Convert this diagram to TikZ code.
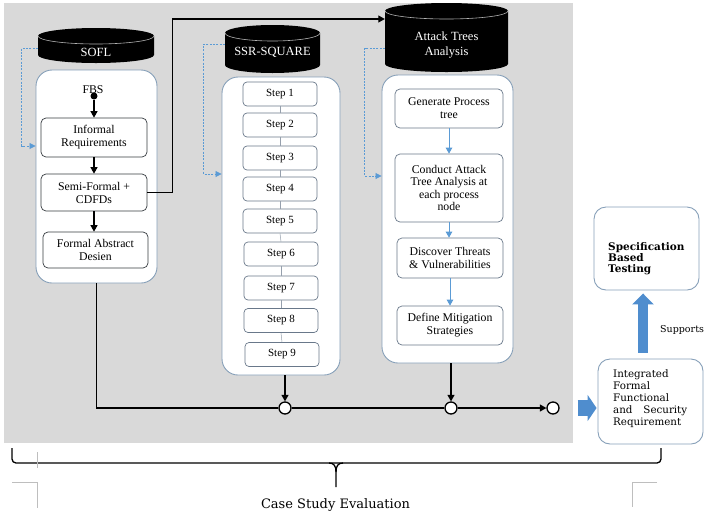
\documentclass[tikz,border=0pt]{standalone}
\usepackage{fontspec}
\setmainfont{Liberation Serif}
\newfontfamily\dvs{DejaVu Serif}
\usetikzlibrary{arrows.meta,calc}
\definecolor{bgGray}{RGB}{217,217,217}
\definecolor{contBorder}{RGB}{135,160,185}
\definecolor{boxBorder}{RGB}{105,120,138}
\definecolor{darkBorder}{RGB}{55,60,65}
\definecolor{blueA}{RGB}{91,155,213}
\definecolor{blueB}{RGB}{79,141,206}
\definecolor{cropGray}{RGB}{190,190,190}
\newcommand\mycyl[5]{% name, cx, hw, top, bottom
  \fill[black] ({#2-#3},{#4+8}) -- ({#2-#3},{#5-8})
     arc[start angle=180,end angle=360,x radius=#3pt,y radius=8pt]
     -- ({#2+#3},{#4+8})
     arc[start angle=0,end angle=180,x radius=#3pt,y radius=8pt] -- cycle;
  \draw[gray!60, line width=0.6pt] ({#2-#3},{#4+8})
     arc[start angle=180,end angle=360,x radius=#3pt,y radius=8pt];
  \node[minimum width=2*#3, minimum height=#5-#4, inner sep=0pt] (#1) at (#2,{(#4+#5)/2}) {};}
\begin{document}
\begin{tikzpicture}[x=1pt,y=-1pt,
  container/.style={draw=contBorder, line width=0.9pt, fill=white, rounded corners=16pt, inner sep=0pt},
  pbox/.style={draw=boxBorder, line width=0.7pt, fill=white, rounded corners=5pt, align=center,
     font=\fontsize{11.8}{13}\selectfont, inner sep=0pt},
  dbox/.style={pbox, draw=darkBorder},
  stepbox/.style={draw=boxBorder, line width=0.7pt, fill=white, rounded corners=4pt,
     font=\fontsize{11}{12}\selectfont, inner sep=0pt, minimum width=74, minimum height=24},
  cyltext/.style={text=white, font=\fontsize{12.5}{15}\selectfont, align=center, inner sep=0pt},
  blk/.style={black, line width=1.1pt},
  blkarrow/.style={black, line width=1.1pt, -{Triangle[width=7pt,length=6.5pt]}},
  bluearrow/.style={blueA, line width=1pt, -{Triangle[width=6.5pt,length=6pt]}},
  fb/.style={blueA, line width=0.8pt, dash pattern=on 2pt off 1.3pt, -{Triangle[width=6pt,length=6pt]}},
  joint/.style={circle, draw=black, line width=1.3pt, fill=white, inner sep=0pt, minimum size=12},
  steplink/.style={draw=boxBorder!70, line width=0.5pt},
  blockA/.style={draw=blueB, line width=16pt, -{Triangle[width=26pt,length=9pt]}},
  blockB/.style={draw=blueB, line width=10pt, -{Triangle[width=21pt,length=11pt]}},
  crop/.style={cropGray, line width=0.8pt}]
\useasboundingbox (0,0) rectangle (706,520);
\fill[bgGray] (4,3) rectangle (573,443);

% ---------- SOFL column ----------
\mycyl{soflcyl}{96}{58}{28}{63}
\node[cyltext] (sofllbl) at (96,52) {SOFL};
\node[container, minimum width=121, minimum height=213] (soflc) at (96.5,176.5) {};
\node[font=\fontsize{11.8}{13}\selectfont, inner sep=0pt] (fbs) at (93,90) {FBS};
\node[circle, fill=black, inner sep=0pt, minimum size=7] (fbsdot) at (94,96) {};
\node[dbox, minimum width=106, minimum height=39] (inf) at (94,137.5) {Informal\\Requirements};
\node[dbox, minimum width=106, minimum height=37] (semi) at (94,192.5) {Semi-Formal +\\CDFDs};
\node[dbox, minimum width=105, minimum height=36] (fad) at (95.5,250) {Formal Abstract\\Desien};
\draw[blkarrow] (fbsdot) -- (inf.north);
\draw[blkarrow] (inf.south) -- (semi.north);
\draw[blkarrow] (semi.south) -- (semi.south |- fad.north);

% ---------- SSR-SQUARE column ----------
\mycyl{ssrcyl}{272.5}{47.5}{25}{73}
\node[cyltext] (ssrlbl) at (272.5,52) {SSR-SQUARE};
\node[container, minimum width=118, minimum height=298] (ssrc) at (281,226) {};
\node[stepbox] (s1) at (280,94) {Step 1};
\node[stepbox] (s2) at (280,125) {Step 2};
\node[stepbox] (s3) at (280,158) {Step 3};
\node[stepbox] (s4) at (280,189) {Step 4};
\node[stepbox] (s5) at (280,221) {Step 5};
\node[stepbox] (s6) at (281,254) {Step 6};
\node[stepbox] (s7) at (281,288) {Step 7};
\node[stepbox] (s8) at (281,320.5) {Step 8};
\node[stepbox] (s9) at (282,354.5) {Step 9};
\foreach \a/\b in {s1/s2,s2/s3,s3/s4,s4/s5,s5/s6,s6/s7,s7/s8,s8/s9}
  \draw[steplink] (\a.south) -- (\b.north);

% ---------- Attack Trees column ----------
\mycyl{attcyl}{446.5}{61.5}{3}{72}
\node[cyltext] (attlbl) at (446.5,45) {Attack Trees\\Analysis};
\node[container, minimum width=131, minimum height=288] (attc) at (447.5,219) {};
\node[pbox, minimum width=108, minimum height=39] (gen) at (449,108.5) {Generate Process\\tree};
\node[pbox, font=\fontsize{11.8}{12.4}\selectfont, minimum width=108, minimum height=68] (cond) at (449,188) {Conduct Attack\\Tree Analysis at\\each process\\node};
\node[pbox, minimum width=106, minimum height=40] (disc) at (450,258) {Discover Threats\\\& Vulnerabilities};
\node[pbox, minimum width=106, minimum height=39] (defm) at (450,325.5) {Define Mitigation\\Strategies};
\draw[bluearrow] (gen.south) -- (cond.north);
\draw[bluearrow] (cond.south) -- (cond.south |- disc.north);
\draw[bluearrow] (disc.south) -- (defm.north);

% ---------- feedback (dashed blue) ----------
\draw[fb] ([yshift=-2.5]soflcyl.west) -- ++(-16,0) |- ([yshift=30.5]soflc.west);
\draw[fb] ([yshift=5]ssrcyl.west) -- ++(-21,0) |- ([yshift=52]ssrc.west);
\draw[fb] ([yshift=-10.5]attcyl.west) -- ++(-20,0) |- ([yshift=43]attc.west);

% ---------- SOFL -> Attack Trees ----------
\draw[blkarrow] (semi.east) -- ++(25,0) |- ([yshift=18.5]attcyl.west);

% ---------- bottom joints ----------
\node[joint] (c1) at (285,408) {};
\node[joint] (c2) at (451,408) {};
\node[joint] (c3) at (553,408) {};
\draw[blk] (soflc.south) |- (c1.west);
\draw[blkarrow] (ssrc.south -| c1) -- (c1.north);
\draw[blk] (c1.east) -- (c2.west);
\draw[blkarrow] (attc.south -| c2) -- (c2.north);
\draw[blkarrow] (c2.east) -- (c3.west);

% ---------- right side ----------
\node[draw=contBorder, line width=0.9pt, fill=white, rounded corners=12pt,
      minimum width=105, minimum height=85] (integ) at (650.5,401.5) {};
\node[font={\dvs\fontsize{10.3}{12}\selectfont}, text width=74, align=left, anchor=west, inner sep=0pt]
  (integtext) at (613,399) {Integrated\\Formal\\Functional\\and\hfill Security\\Requirement};
\node[draw=contBorder, line width=0.9pt, fill=white, rounded corners=12pt,
      minimum width=105, minimum height=83] (spec) at (646.5,248.5) {};
\node[font={\dvs\bfseries\fontsize{10.5}{11}\selectfont}, align=left, anchor=west, inner sep=0pt]
  (spectext) at (608,259) {Specification\\Based\\Testing};
\draw[blockA] ([xshift=-20,yshift=-6.5]integ.west) -- ([xshift=-1,yshift=-6.5]integ.west);
\draw[blockB] ([xshift=-7.5,yshift=6]integ.north) -- ([xshift=-3.5,yshift=-3]spec.south);
\node[font={\dvs\fontsize{9.5}{11}\selectfont}, anchor=west, inner sep=0pt] (sup) at (660,330) {Supports};

% ---------- brace ----------
\draw[line width=1.3pt, rounded corners=4pt] (12,448) -- (12,463) -- (661,463) -- (661,448);
\draw[line width=1.3pt] (329,463) .. controls (334,463) and (336,466) .. (336,472) -- (336,487);
\draw[line width=1.3pt] (343,463) .. controls (338,463) and (336,466) .. (336,472);
\node[font={\dvs\fontsize{13}{15}\selectfont}, anchor=base, inner sep=0pt] (cse) at (335.5,508) {Case Study Evaluation};

% ---------- crop marks ----------
\draw[crop] (37,452) -- (37,468);
\draw[crop] (12,482) -- (37,482) -- (37,508);
\draw[crop] (657,482) -- (632,482) -- (632,507);
\end{tikzpicture}
\end{document}
